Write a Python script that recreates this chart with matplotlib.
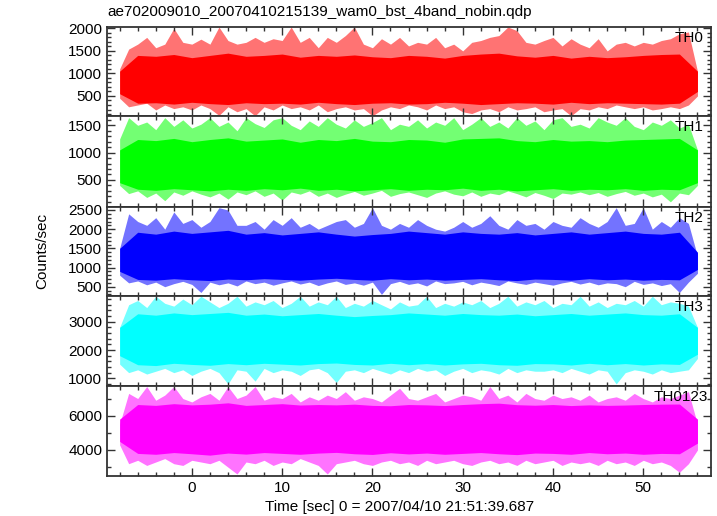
import numpy as np
import matplotlib
matplotlib.use('Agg')
import matplotlib.pyplot as plt
from matplotlib.ticker import MultipleLocator

plt.rcParams['font.family'] = ['Liberation Sans', 'DejaVu Sans']

# tiempo (s) desde 2007/04/10 21:51:39.687
t = np.arange(-8, 57, 1)        # envolvente cada 1 s
tc = np.arange(-8, 57, 2)       # nucleo denso cada 2 s

# TH0
th0_hi = [1100, 1540, 1650, 1800, 1570, 1650, 2000, 1690, 1650, 1760, 1650, 2030, 1730,
          1650, 1690, 1800, 1690, 1770, 1730, 2030, 1690, 1800, 1570, 1800, 1690, 1840,
          2030, 1650, 1570, 1770, 1650, 1800, 1610, 1690, 1650, 1800, 1570, 1650, 1500,
          1690, 1730, 1800, 1840, 2030, 1950, 1690, 1650, 1730, 1800, 1610, 1770, 1650,
          1570, 1770, 1500, 1650, 1690, 1610, 1690, 1650, 1730, 1770, 1880, 1920, 1050]
th0_lo = [450, 260, 300, 340, 190, 300, 220, 260, 190, 300, 220, 70, 260,
          150, 220, 60, 260, 190, 300, 220, 260, 190, 300, 150, 220, 260,
          190, 220, 60, 190, 260, 220, 300, 260, 190, 300, 220, 260, 150,
          110, 190, 220, 150, 260, 190, 220, 260, 150, 190, 220, 60, 220,
          190, 260, 220, 300, 260, 220, 260, 190, 220, 260, 220, 300, 500]
th0_core_hi = [1050, 1400, 1380, 1420, 1350, 1400, 1450, 1380, 1400, 1430, 1360, 1400, 1380,
               1410, 1370, 1350, 1400, 1380, 1340, 1400, 1430, 1450, 1390, 1360, 1400, 1340,
               1380, 1350, 1370, 1400, 1420, 1430, 1050]
th0_core_lo = [550, 340, 350, 320, 360, 330, 310, 350, 330, 340, 320, 360, 330,
               310, 340, 350, 320, 330, 360, 340, 310, 330, 350, 340, 320, 360,
               330, 350, 340, 330, 320, 340, 600]

# TH1
th1_hi = [1250, 1640, 1500, 1560, 1420, 1640, 1480, 1600, 1450, 1520, 1640, 1480, 1560,
          1400, 1640, 1530, 1460, 1600, 1640, 1500, 1420, 1580, 1480, 1640, 1520, 1450,
          1600, 1480, 1550, 1640, 1420, 1520, 1480, 1600, 1450, 1560, 1500, 1640, 1420,
          1520, 1640, 1480, 1560, 1450, 1640, 1500, 1580, 1420, 1600, 1640, 1480, 1520,
          1450, 1640, 1560, 1500, 1640, 1480, 1420, 1560, 1500, 1600, 1450, 1520, 1050]
th1_lo = [400, 250, 300, 180, 260, 120, 280, 220, 300, 240, 190, 260, 150,
          280, 230, 300, 200, 260, 130, 280, 240, 300, 200, 260, 180, 240,
          290, 220, 260, 310, 200, 250, 280, 230, 180, 260, 300, 240, 210,
          280, 200, 260, 230, 300, 250, 190, 270, 220, 160, 260, 240, 280,
          230, 270, 200, 250, 290, 220, 260, 190, 240, 100, 260, 230, 400]
th1_core_hi = [1050, 1240, 1220, 1260, 1200, 1240, 1270, 1210, 1230, 1250, 1190, 1240, 1220,
               1260, 1210, 1200, 1240, 1230, 1190, 1250, 1260, 1270, 1220, 1200, 1240, 1210,
               1220, 1200, 1230, 1240, 1250, 1260, 1050]
th1_core_lo = [450, 330, 310, 340, 320, 300, 330, 310, 340, 320, 350, 310, 330,
               300, 320, 340, 310, 330, 320, 350, 310, 330, 300, 320, 340, 310,
               330, 320, 340, 310, 330, 320, 450]

# TH2
th2_hi = [1500, 2400, 2200, 2100, 2300, 2000, 2450, 2150, 2250, 2050, 2200, 2560, 2500,
          2100, 2100, 2200, 2000, 2250, 2100, 2300, 2050, 2150, 2000, 2100, 2200, 2250,
          2050, 2150, 2560, 2100, 2000, 2150, 2050, 2250, 2100, 2000, 1950, 2050, 2200,
          2050, 2150, 2350, 2100, 2000, 2250, 2100, 2150, 2000, 2200, 2100, 2050, 2300,
          2150, 2050, 2200, 2560, 2100, 2150, 2560, 2000, 2200, 2050, 2300, 2150, 1300]
th2_lo = [800, 600, 650, 550, 620, 500, 580, 640, 560, 350, 620, 550, 600,
          520, 650, 580, 620, 540, 600, 650, 570, 620, 530, 600, 650, 560,
          600, 540, 620, 300, 580, 640, 560, 600, 520, 650, 580, 600, 640,
          550, 620, 580, 530, 650, 600, 560, 620, 580, 540, 600, 640, 570,
          620, 550, 600, 580, 500, 640, 560, 600, 530, 580, 350, 620, 850]
th2_core_hi = [1500, 1920, 1870, 1950, 1890, 1930, 1970, 1870, 1910, 1850, 1890, 1930, 1870,
               1820, 1860, 1890, 1950, 1910, 1870, 1930, 1890, 1870, 1910, 1850, 1890, 1930,
               1870, 1910, 1950, 1890, 1870, 1920, 1400]
th2_core_lo = [900, 690, 670, 710, 680, 660, 700, 680, 710, 690, 670, 700, 720,
               690, 670, 710, 680, 700, 670, 690, 710, 680, 660, 700, 690, 670,
               710, 680, 700, 670, 690, 680, 950]

# TH3
th3_hi = [2800, 3600, 3750, 3500, 3900, 3650, 3550, 3800, 3600, 3900, 3700, 3500, 3650,
          3900, 3550, 3700, 3600, 3750, 3500, 3650, 3900, 3550, 3700, 3600, 3900, 3500,
          3650, 3550, 3750, 3600, 3450, 3700, 3550, 3600, 3900, 3500, 3650, 3550, 3700,
          3600, 3750, 3500, 3650, 3900, 3550, 3700, 3600, 3750, 3500, 3650, 3600, 3900,
          3550, 3700, 3500, 3650, 3600, 3750, 3550, 3900, 3600, 3700, 3650, 3550, 2800]
th3_lo = [1500, 1200, 1300, 1150, 1250, 1350, 1200, 1300, 1100, 1250, 1350, 1200, 800,
          1300, 1250, 900, 1350, 1200, 1300, 1250, 1100, 1300, 1350, 1200, 850, 1250,
          1300, 1200, 1350, 1250, 1150, 1300, 1200, 1350, 1250, 1300, 1100, 1250, 1350,
          1200, 1300, 1250, 1150, 1350, 1200, 1300, 1250, 1250, 1300, 1200, 1350, 1250,
          1150, 1300, 1250, 800, 1200, 1300, 1250, 1150, 1300, 1200, 1250, 1300, 1700]
th3_core_hi = [2800, 3280, 3230, 3310, 3250, 3290, 3330, 3230, 3270, 3210, 3250, 3290, 3230,
               3180, 3220, 3250, 3310, 3270, 3230, 3290, 3250, 3230, 3270, 3210, 3250, 3290,
               3230, 3270, 3310, 3250, 3230, 3280, 2800]
th3_core_lo = [1800, 1480, 1450, 1530, 1490, 1460, 1520, 1480, 1530, 1500, 1470, 1520, 1540,
               1490, 1470, 1530, 1480, 1520, 1470, 1510, 1530, 1480, 1460, 1520, 1510, 1470,
               1530, 1480, 1520, 1470, 1510, 1490, 1850]

# TH0123
th0123_hi = [5500, 7300, 7000, 7700, 6900, 7200, 7700, 7000, 6800, 7100, 7300, 6900, 7700,
             7000, 7200, 7700, 6900, 7100, 7000, 7300, 6800, 7100, 6900, 7200, 7000, 7400,
             6900, 7100, 7000, 6800, 7200, 7600, 7000, 6900, 7100, 7300, 6800, 7000, 7200,
             7100, 6900, 7700, 7000, 7200, 6800, 7300, 7000, 6900, 7200, 7000, 7100, 6900,
             7200, 6800, 7000, 7100, 6900, 7300, 7000, 6800, 7100, 7000, 7200, 7400, 5500]
th0123_lo = [4300, 3200, 3400, 3100, 3300, 3500, 3200, 3100, 3400, 3300, 3200, 3400, 3000,
             2600, 3300, 3200, 3400, 3100, 3300, 3200, 3500, 3300, 3100, 2600, 3200, 3300,
             3400, 3200, 3100, 3300, 3400, 3200, 3300, 3100, 3400, 3200, 3300, 3400, 3200,
             3100, 3300, 3400, 3200, 3300, 3100, 3400, 3200, 3300, 3400, 3100, 3300, 3200,
             3300, 3100, 3400, 3200, 3300, 3100, 3400, 3200, 3300, 3100, 2700, 3200, 4000]
th0123_core_hi = [5800, 6650, 6600, 6700, 6630, 6670, 6750, 6600, 6650, 6700, 6620, 6650, 6630,
                  6670, 6600, 6580, 6650, 6630, 6590, 6650, 6700, 6730, 6640, 6610, 6650, 6590,
                  6630, 6600, 6620, 6650, 6670, 6680, 5800]
th0123_core_lo = [4500, 3800, 3750, 3850, 3780, 3700, 3820, 3760, 3850, 3800, 3750, 3820, 3860,
                  3780, 3740, 3840, 3770, 3820, 3750, 3800, 3850, 3780, 3730, 3820, 3800, 3750,
                  3850, 3780, 3820, 3750, 3800, 3780, 4400]

etiquetas = ['TH0', 'TH1', 'TH2', 'TH3', 'TH0123']
colores = ['#ff0000', '#00ff00', '#0000ff', '#00ffff', '#ff00ff']
series = [
    (th0_hi, th0_lo, th0_core_hi, th0_core_lo),
    (th1_hi, th1_lo, th1_core_hi, th1_core_lo),
    (th2_hi, th2_lo, th2_core_hi, th2_core_lo),
    (th3_hi, th3_lo, th3_core_hi, th3_core_lo),
    (th0123_hi, th0123_lo, th0123_core_hi, th0123_core_lo),
]
ylims = [(56, 2030), (5, 1670), (258, 2578), (728, 3908), (2484, 7730)]
mayores = [500, 500, 500, 1000, 2000]
menores = [100, 100, 100, 200, 1000]
label_x = [0.987, 0.987, 0.987, 0.987, 0.995]

fig = plt.figure(figsize=(7.17, 5.16), dpi=100)
bordes = [27, 116, 207, 296, 386, 476]
izq, der = 107 / 717, 711 / 717
gris = '#333333'

for i in range(5):
    y0 = 1 - bordes[i + 1] / 516
    y1 = 1 - bordes[i] / 516
    ax = fig.add_axes([izq, y0, der - izq, y1 - y0])
    hi, lo, chi, clo = series[i]
    c = colores[i]
    # franja clara de picos y nucleo denso
    ax.fill_between(t, lo, hi, color=c, alpha=0.55, lw=0)
    ax.fill_between(tc, clo, chi, color=c, lw=0)
    ax.set_xlim(-9.4, 57.5)
    ax.set_ylim(*ylims[i])
    ax.xaxis.set_major_locator(MultipleLocator(10))
    ax.xaxis.set_minor_locator(MultipleLocator(2))
    ax.yaxis.set_major_locator(MultipleLocator(mayores[i]))
    ax.yaxis.set_minor_locator(MultipleLocator(menores[i]))
    ax.tick_params(which='both', direction='in', top=True, right=True, colors=gris,
                   labelcolor='black', labelsize=11)
    ax.tick_params(which='major', length=6, width=1)
    ax.tick_params(which='minor', length=3, width=1)
    for s in ax.spines.values():
        s.set_color(gris)
        s.set_linewidth(1.3)
    if i < 4:
        ax.tick_params(labelbottom=False)
    ax.text(label_x[i], 0.96, etiquetas[i], transform=ax.transAxes,
            ha='right', va='top', fontsize=11)

fig.text(izq, 1 - 12 / 516, 'ae702009010_20070410215139_wam0_bst_4band_nobin.qdp',
         ha='left', va='center', fontsize=11)
fig.text(0.059, 1 - 251 / 516, 'Counts/sec', rotation=90, ha='center', va='center', fontsize=11)
fig.text(0.557, 1 - 507 / 516, 'Time [sec] 0 = 2007/04/10 21:51:39.687',
         ha='center', va='center', fontsize=11)

fig.savefig('out.png', dpi=100)
